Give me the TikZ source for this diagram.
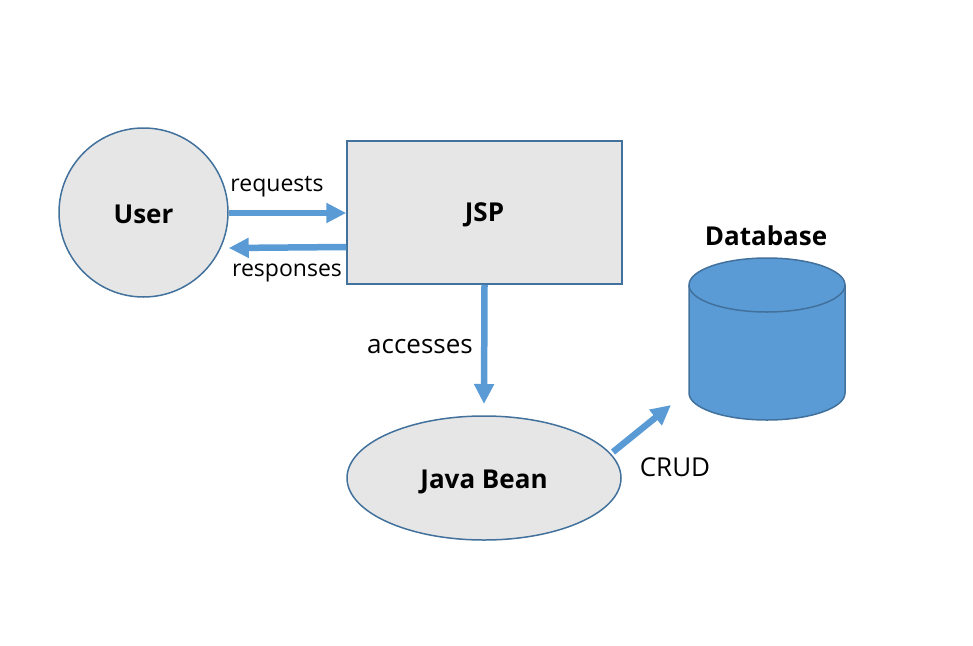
\documentclass[tikz,border=0pt]{standalone}
\usepackage{fontspec}
\setmainfont{Open Sans}
\usetikzlibrary{arrows.meta,shapes.geometric}
\definecolor{edgeblue}{HTML}{41719C}
\definecolor{arrowblue}{HTML}{5B9BD5}
\definecolor{boxgray}{HTML}{E6E6E6}
\begin{document}
\begin{tikzpicture}[x=1pt,y=-1pt,
  shapebox/.style={draw=edgeblue,fill=boxgray,line width=1.5pt},
  flow/.style={draw=arrowblue,line width=6.5pt,-{Triangle[length=20pt,width=19pt]}},
  title/.style={font=\fontsize{26}{30}\selectfont\bfseries},
  lbl/.style={font=\fontsize{23}{27}\selectfont},
  lblbig/.style={font=\fontsize{26}{30}\selectfont}]
\useasboundingbox (0,0) rectangle (973,645);
\node[shapebox,circle,minimum size=169pt,inner sep=0pt] (user) at (143.5,212.5) {};
\node[title] at ([yshift=-2pt]user.center) {User};
\node[shapebox,rectangle,minimum width=275pt,minimum height=143pt,inner sep=0pt] (jsp) at (484.5,212.5) {};
\node[title] at ([yshift=-2pt]jsp.center) {JSP};
\node[shapebox,ellipse,minimum width=274pt,minimum height=124pt,inner sep=0pt] (bean) at (484,478) {};
\node[title] at ([yshift=-4pt]bean.center) {Java Bean};
% database cylinder
\fill[arrowblue] (689,285) -- (689,393) arc[start angle=180,end angle=360,x radius=78,y radius=-27] -- (845,285) -- cycle;
\draw[edgeblue,line width=1.5pt] (689,285) -- (689,393) arc[start angle=180,end angle=360,x radius=78,y radius=-27] -- (845,285);
\filldraw[fill=arrowblue,draw=edgeblue,line width=1.5pt] (767,285) ellipse[x radius=78,y radius=27];
\coordinate (db) at (767,339);
\node[title] (dbl) at (766,236) {Database};
% connectors
\coordinate (crudend) at (671,405);
\draw[flow] (user.east |- 0,213) -- (jsp.west |- 0,213);
\draw[flow] (jsp.west |- 0,247) -- ([yshift=-1pt]user.east |- 0,247);
\draw[flow] (jsp.south) -- (484,404);
\draw[flow] (613,452) -- (crudend);
\node[lbl] at (277,187) {requests};
\node[lbl] at (287,273) {responses};
\node[lblbig] at (420,347) {accesses};
\node[lblbig] at (675,467) {CRUD};
\end{tikzpicture}
\end{document}
